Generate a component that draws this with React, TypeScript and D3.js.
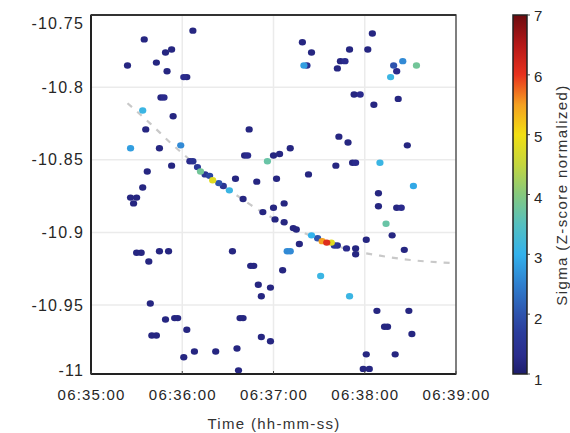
import * as d3 from "d3";

const W = 570;
const H = 433;
const PLOT = { left: 91, top: 15, right: 456, bottom: 374 };
const FONT = "'Liberation Sans', Arial, sans-serif";

// scatter: time, value, sigma (Z-score normalized)
const times = [
  "06:36:07", "06:35:35", "06:35:24", "06:35:43", "06:35:49", "06:35:53", "06:35:50", "06:36:01", "06:36:03", "06:35:46",
  "06:35:48", "06:35:34", "06:35:54", "06:35:36", "06:35:26", "06:35:45", "06:35:59", "06:36:44", "06:36:41", "06:36:43",
  "06:37:00", "06:37:04", "06:37:11", "06:36:56", "06:35:53", "06:35:37", "06:35:34", "06:35:26", "06:35:30", "06:35:28",
  "06:36:05", "06:36:07", "06:36:10", "06:36:12", "06:36:15", "06:36:18", "06:36:20", "06:36:24", "06:36:27", "06:36:31",
  "06:36:35", "06:36:40", "06:36:49", "06:36:53", "06:37:00", "06:37:01", "06:37:07", "06:37:02", "06:37:07", "06:37:13",
  "06:37:15", "06:37:17", "06:37:09", "06:37:11", "06:37:06", "06:37:31",
  "06:37:25", "06:37:29", "06:37:32", "06:37:35", "06:37:38", "06:37:40", "06:37:42", "06:37:48", "06:37:54", "06:37:54",
  "06:38:01", "06:38:18", "06:38:26", "06:38:14",
  "06:38:05", "06:37:19", "06:37:25", "06:37:50", "06:38:02", "06:37:20", "06:37:22", "06:37:42", "06:37:44", "06:37:47",
  "06:38:19", "06:38:25", "06:38:34", "06:38:21", "06:38:17", "06:37:53", "06:37:57", "06:38:06", "06:38:22", "06:37:43",
  "06:37:49", "06:38:28", "06:37:41", "06:37:52", "06:37:54", "06:38:10", "06:37:23", "06:38:09", "06:38:09", "06:38:21",
  "06:38:24", "06:38:32",
  "06:35:30", "06:35:33", "06:35:38", "06:35:45", "06:35:51", "06:36:33", "06:36:45", "06:36:47", "06:36:50", "06:36:58",
  "06:36:52", "06:35:39", "06:35:49", "06:35:55", "06:35:57", "06:36:03", "06:35:40", "06:35:43", "06:36:01", "06:36:08",
  "06:36:22", "06:36:36", "06:36:37", "06:36:38", "06:36:40", "06:36:52", "06:36:58", "06:37:50", "06:38:08", "06:38:29",
  "06:38:13", "06:38:15", "06:38:31", "06:38:01", "06:38:20", "06:37:59", "06:38:03",
];

const values = [
  -10.761, -10.767, -10.785, -10.783, -10.776, -10.774, -10.789, -10.793, -10.793, -10.807,
  -10.807, -10.816, -10.82, -10.829, -10.842, -10.842, -10.84, -10.829, -10.847, -10.847,
  -10.847, -10.846, -10.842, -10.851, -10.854, -10.858, -10.869, -10.876, -10.876, -10.88,
  -10.851, -10.851, -10.855, -10.858, -10.86, -10.861, -10.864, -10.866, -10.868, -10.871,
  -10.863, -10.877, -10.865, -10.886, -10.883, -10.891, -10.88, -10.863, -10.893, -10.897,
  -10.898, -10.908, -10.913, -10.913, -10.926, -10.93,
  -10.902, -10.904, -10.906, -10.907, -10.907, -10.909, -10.909, -10.911, -10.911, -10.915,
  -10.905, -10.902, -10.912, -10.894,
  -10.763, -10.769, -10.776, -10.774, -10.774, -10.785, -10.785, -10.787, -10.782, -10.782,
  -10.785, -10.782, -10.785, -10.789, -10.793, -10.805, -10.805, -10.812, -10.808, -10.834,
  -10.838, -10.84, -10.854, -10.852, -10.852, -10.852, -10.86, -10.873, -10.882, -10.883,
  -10.883, -10.868,
  -10.914, -10.914, -10.92, -10.913, -10.913, -10.913, -10.923, -10.923, -10.936, -10.938,
  -10.944, -10.949, -10.96, -10.959, -10.959, -10.967, -10.971, -10.971, -10.986, -10.982,
  -10.982, -10.98, -10.995, -10.959, -10.959, -10.972, -10.975, -10.944, -10.954, -10.954,
  -10.965, -10.965, -10.97, -10.984, -10.984, -10.994, -10.994,
];

const sigmas = [
  1.2, 1.2, 1.2, 1.2, 1.2, 1.2, 1.2, 1.3, 1.2, 1.2,
  1.3, 3.1, 1.2, 1.2, 2.8, 1.2, 2.6, 1.2, 1.2, 1.3,
  1.2, 1.2, 1.2, 3.7, 1.2, 1.2, 1.2, 1.2, 1.2, 1.2,
  1.3, 1.4, 1.6, 3.8, 1.5, 1.8, 4.8, 2.0, 1.5, 3.1,
  1.2, 1.2, 1.2, 1.2, 1.2, 1.2, 1.2, 1.2, 1.2, 1.2,
  1.2, 1.2, 2.6, 2.6, 1.2, 3.1,
  3.0, 2.0, 5.5, 6.1, 4.8, 1.6, 1.4, 1.3, 1.2, 1.2,
  1.2, 1.2, 1.2, 3.7,
  1.2, 1.2, 1.2, 1.2, 1.2, 2.8, 1.4, 1.2, 1.2, 1.3,
  2.0, 2.6, 3.8, 1.3, 3.1, 1.2, 1.3, 1.2, 1.2, 1.2,
  1.2, 1.2, 1.2, 1.2, 1.3, 3.1, 1.2, 1.2, 1.2, 1.2,
  1.3, 2.9,
  1.2, 1.2, 1.2, 1.2, 1.2, 1.2, 1.2, 1.2, 1.2, 1.2,
  1.2, 1.2, 1.2, 1.2, 1.2, 1.2, 1.2, 1.2, 1.2, 1.2,
  1.2, 1.2, 1.2, 1.2, 1.2, 1.2, 1.2, 3.1, 1.2, 1.2,
  1.2, 1.2, 1.2, 1.2, 1.2, 1.2, 1.2,
];

// fitted trend (dashed)
const trendTimes = [
  "06:35:24", "06:35:39", "06:35:52", "06:36:05", "06:36:18", "06:36:31", "06:36:51",
  "06:37:11", "06:37:31", "06:37:50", "06:38:10", "06:38:30", "06:38:57",
];
const trendValues = [
  -10.811, -10.825, -10.838, -10.85, -10.862, -10.871, -10.885,
  -10.896, -10.905, -10.912, -10.916, -10.919, -10.921,
];

const xTickLabels = ["06:35:00", "06:36:00", "06:37:00", "06:38:00", "06:39:00"];
const yTickValues = [-11, -10.95, -10.9, -10.85, -10.8, -10.75];
const colorTicks = [1, 2, 3, 4, 5, 6, 7];

// colormap (jet-like)
const cmapStops = [1, 1.3, 1.7, 2, 2.5, 3, 3.5, 4, 4.5, 5, 5.5, 6, 6.5, 7];
const cmapColors = [
  "#1d1d6b", "#2a2c8c", "#2b3d9c", "#2e53ad", "#2f80cf", "#33b2ec", "#55c0c0",
  "#86c97e", "#c4d63e", "#f2df12", "#f5a020", "#e8321e", "#b51818", "#6c0c10",
];

const parse = d3.timeParse("%H:%M:%S");

export default function App() {
  const x = d3
    .scaleTime()
    .domain([parse(xTickLabels[0])!, parse(xTickLabels[xTickLabels.length - 1])!])
    .range([PLOT.left, PLOT.right]);
  const y = d3.scaleLinear().domain([-11, -10.75]).range([377.6, 14.7]);
  const color = d3
    .scaleLinear<string>()
    .domain(cmapStops)
    .range(cmapColors)
    .interpolate(d3.interpolateRgb)
    .clamp(true);

  const cbar = d3.scaleLinear().domain([1, 7]).range([PLOT.bottom, PLOT.top]);
  const cbarLabel = d3.scaleLinear().domain([1, 7]).range([379, 15.5]);

  const points = times
    .map((t, i) => ({ t: parse(t)!, v: values[i], s: sigmas[i] }))
    .sort((a, b) => a.s - b.s);

  const trend = d3
    .line<[Date, number]>()
    .x((d) => x(d[0]))
    .y((d) => y(d[1]))
    .curve(d3.curveMonotoneX)(trendTimes.map((t, i) => [parse(t)!, trendValues[i]]));

  const cbX = 513;
  const cbW = 14;

  return (
    <svg
      width={W}
      height={H}
      style={{ position: "absolute", left: 0, top: 0, background: "#fff" }}
      fontFamily={FONT}
    >
      <defs>
        <linearGradient id="cmap" x1="0" y1="1" x2="0" y2="0">
          {cmapStops.map((s, i) => (
            <stop key={i} offset={(s - 1) / 6} stopColor={cmapColors[i]} />
          ))}
        </linearGradient>
        <filter id="soft" x="-50%" y="-50%" width="200%" height="200%">
          <feGaussianBlur stdDeviation="0.45" />
        </filter>
        <clipPath id="plotclip">
          <rect x={PLOT.left} y={PLOT.top} width={PLOT.right - PLOT.left} height={PLOT.bottom - PLOT.top} />
        </clipPath>
      </defs>

      {/* grid */}
      {xTickLabels.slice(1, -1).map((l) => (
        <line
          key={l}
          x1={x(parse(l)!)}
          x2={x(parse(l)!)}
          y1={PLOT.top}
          y2={PLOT.bottom}
          stroke="#ebebeb"
          strokeWidth={1.5}
        />
      ))}
      {yTickValues.slice(1, -1).map((v) => (
        <line
          key={v}
          x1={PLOT.left}
          x2={PLOT.right}
          y1={y(v)}
          y2={y(v)}
          stroke="#ebebeb"
          strokeWidth={1.5}
        />
      ))}

      <g clipPath="url(#plotclip)">
        <path
          d={trend ?? ""}
          fill="none"
          stroke="#c9c9c9"
          strokeWidth={2.2}
          strokeDasharray="6 7"
        />
        <g filter="url(#soft)">
          {points.map((p, i) => (
            <ellipse key={i} cx={x(p.t)} cy={y(p.v)} rx={3.6} ry={3.2} fill={color(p.s)} />
          ))}
        </g>
      </g>

      {/* frame */}
      <rect
        x={PLOT.left}
        y={PLOT.top}
        width={PLOT.right - PLOT.left}
        height={PLOT.bottom - PLOT.top}
        fill="none"
        stroke="#555"
        strokeWidth={1.5}
      />
      <line x1={PLOT.left} x2={PLOT.left} y1={PLOT.top} y2={PLOT.bottom} stroke="#222" strokeWidth={2} />
      <line x1={PLOT.left} x2={PLOT.right} y1={PLOT.bottom} y2={PLOT.bottom} stroke="#222" strokeWidth={2} />
      <line x1={PLOT.left} x2={PLOT.right} y1={PLOT.top} y2={PLOT.top} stroke="#333" strokeWidth={2} />

      {/* x ticks */}
      {xTickLabels.map((l) => {
        const px = x(parse(l)!);
        return (
          <g key={l}>
            <line x1={px} x2={px} y1={PLOT.bottom} y2={PLOT.bottom - 3} stroke="#444" strokeWidth={1} />
            <text
              x={px + 0.6}
              y={400}
              textAnchor="middle"
              fontSize={15}
              letterSpacing={1.2}
              fill="#262626"
            >
              {l}
            </text>
          </g>
        );
      })}

      {/* y ticks */}
      {yTickValues.map((v) => (
        <text
          key={v}
          x={84}
          y={Math.min(370, Math.max(23, y(v)))}
          textAnchor="end"
          dominantBaseline="central"
          fontSize={16}
          letterSpacing={1.2}
          fill="#262626"
        >
          {String(v)}
        </text>
      ))}

      <text
        x={274}
        y={429}
        textAnchor="middle"
        fontSize={15}
        letterSpacing={1.3}
        fill="#333"
      >
        Time (hh-mm-ss)
      </text>

      {/* colorbar */}
      <rect x={cbX} y={PLOT.top} width={cbW} height={PLOT.bottom - PLOT.top} fill="url(#cmap)" />
      <rect
        x={cbX}
        y={PLOT.top}
        width={cbW}
        height={PLOT.bottom - PLOT.top}
        fill="none"
        stroke="#222"
        strokeWidth={1.5}
      />
      {colorTicks.map((c) => (
        <g key={c}>
          <line x1={cbX + cbW} x2={cbX + cbW + 3} y1={cbar(c)} y2={cbar(c)} stroke="#444" />
          <text
            x={534}
            y={cbarLabel(c)}
            dominantBaseline="central"
            fontSize={15}
            letterSpacing={1.2}
            fill="#262626"
          >
            {c}
          </text>
        </g>
      ))}
      <text
        transform="translate(567,195) rotate(-90)"
        textAnchor="middle"
        fontSize={15}
        letterSpacing={1.4}
        fill="#333"
      >
        Sigma (Z-score normalized)
      </text>
    </svg>
  );
}
